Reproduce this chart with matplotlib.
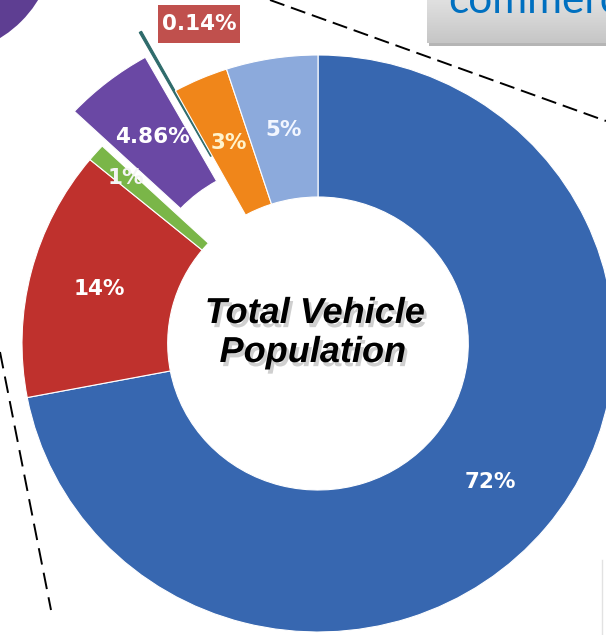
import matplotlib
matplotlib.use("Agg")
import matplotlib.pyplot as plt
import matplotlib.patheffects as pe
from matplotlib.patches import Rectangle, Ellipse
from matplotlib.colors import LinearSegmentedColormap
import numpy as np

# ---------------- data ----------------
categories = ["Cars", "Two wheelers", "Buses", "Goods vehicles", "Others", "Tractors", "Three wheelers"]
values = [72, 14, 1, 4.86, 0.14, 3, 5]
value_labels = ["72%", "14%", "1%", "4.86%", "", "3%", "5%"]
callout_label = "0.14%"
center_title = ["Total Vehicle", "Population"]
box_title = "commercial"

# ---------------- style ----------------
colors = ["#3767B0", "#BF312D", "#7AB648", "#6A48A4", "#2E6B6B", "#F0861A", "#8CAADC"]
label_colors = ["white", "white", "#F4F4F4", "white", "white", "#FFF3CC", "#F2F6FF"]
explode = [0, 0, 0, 44, 68, 0, 0]
label_r = [218, 220, 250, 218, 218, 218, 216]

W, H = 606, 635
SX = 1.026  # slight horizontal stretch of the reference


def P(x, y):
    return (x / SX, H - y)


plt.rcParams['lines.scale_dashes'] = False
fig = plt.figure(figsize=(W / 100, H / 100), dpi=100)
ax = fig.add_axes([0, 0, 1, 1])

cx, cy = P(318, 343.5)
R = 288.5
wedges, _ = ax.pie(values, colors=colors, startangle=90, counterclock=False,
                   radius=R, center=(cx, cy), explode=explode,
                   wedgeprops=dict(width=142, edgecolor="white", linewidth=0.8))
wedges[4].set_edgecolor(colors[4])
wedges[4].set_linewidth(0.8)

for w, txt, r, c in zip(wedges, value_labels, label_r, label_colors):
    if not txt:
        continue
    th = np.deg2rad((w.theta1 + w.theta2) / 2)
    x0, y0 = w.center
    ax.text(x0 + r * np.cos(th), y0 + r * np.sin(th), txt, ha="center", va="center",
            fontsize=15.5, fontweight="bold", color=c, family="DejaVu Sans", zorder=5)

# centre title with soft shadow
shadow = [pe.SimplePatchShadow(offset=(2, -3), shadow_rgbFace="#777777", alpha=0.35), pe.Normal()]
ax.text(*P(315, 323), center_title[0], ha="center", va="baseline", fontsize=26,
        fontweight="bold", fontstyle="italic", family="Liberation Sans", color="black",
        path_effects=shadow, zorder=6)
ax.text(*P(313, 362), center_title[1], ha="center", va="baseline", fontsize=26,
        fontweight="bold", fontstyle="italic", family="Liberation Sans", color="black",
        path_effects=shadow, zorder=6)

# callout box "0.14%"
x0, y0 = P(158, 43)
ax.add_patch(Rectangle((x0, y0), 82 / SX, 38, facecolor="#C0504D", edgecolor="none", zorder=4))
ax.text(*P(199, 24), callout_label, ha="center", va="center", fontsize=15.5,
        fontweight="bold", color="white", family="DejaVu Sans", zorder=5)

# grey title box (top right)
bx0, by0 = P(427, 43)
bx1, by1 = P(610, 0)
ax.add_patch(Rectangle((bx0 + 2 / SX, by0 - 3), (bx1 - bx0), 43, facecolor="#B5B5B5",
                       edgecolor="none", zorder=2))
grad = np.linspace(0, 1, 64).reshape(-1, 1)
cmap = LinearSegmentedColormap.from_list("g", ["#C6C6C6", "#E0E0E0"])
ax.imshow(grad, extent=(bx0, bx1, by0, by1), origin="lower", cmap=cmap, aspect="auto", zorder=3)
ax.text(*P(448, 13), box_title, ha="left", va="baseline", fontsize=30.5,
        family="Lato", color="#0070C0", zorder=4, clip_on=True)

# dashed leader lines
xa, ya = P(270, 0)
xb, yb = P(606, 121)
ax.plot([xa, xb], [ya, yb], color="black", lw=1.4, dashes=(11, 5), zorder=1)
xa, ya = P(0, 352)
xb, yb = P(51, 610)
ax.plot([xa, xb], [ya, yb], color="black", lw=1.4, dashes=(12, 6), zorder=1)

# part of another purple pie at top-left corner
ex, ey = P(-60, -60)
ax.add_patch(Ellipse((ex, ey), 2 * 115 / SX, 230, facecolor="#5E3E92", edgecolor="none", zorder=1))

# faint edge at bottom right
xa, ya = P(602, 560)
xb, yb = P(602, 635)
ax.plot([xa, xb], [ya, yb], color="#E2E2E2", lw=1, zorder=1)

ax.set_aspect("auto")
ax.set_xlim(0, W / SX)
ax.set_ylim(0, H)
ax.axis("off")

fig.savefig("out.png", dpi=100, facecolor="white")
